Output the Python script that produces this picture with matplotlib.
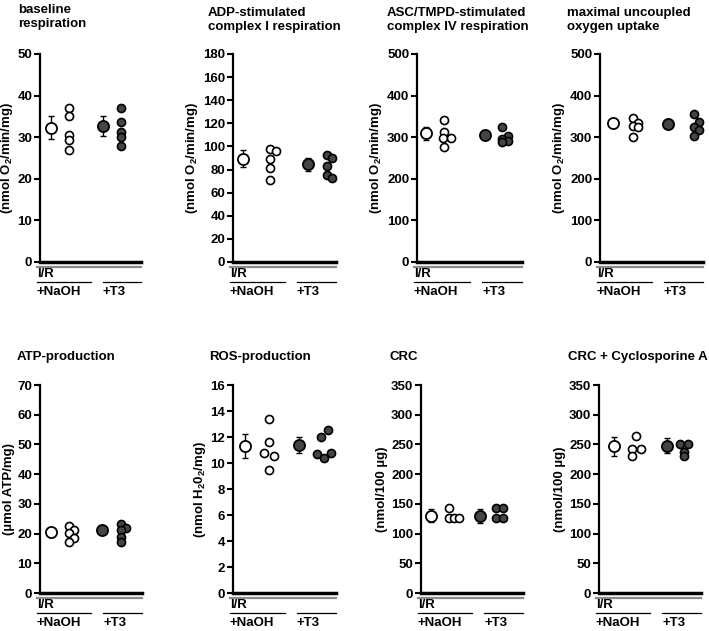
import numpy as np
import matplotlib
matplotlib.use("Agg")
import matplotlib.pyplot as plt

plt.rcParams['font.family'] = ['Liberation Sans', 'DejaVu Sans']
plt.rcParams['font.weight'] = 'bold'
plt.rcParams['font.size'] = 9.5
plt.rcParams['mathtext.fontset'] = 'custom'
plt.rcParams['mathtext.rm'] = 'Liberation Sans:bold'
plt.rcParams['mathtext.default'] = 'rm'

# panel texts
titles = ["baseline\nrespiration", "ADP-stimulated\ncomplex I respiration",
          "ASC/TMPD-stimulated\ncomplex IV respiration", "maximal uncoupled\noxygen uptake",
          "ATP-production", "ROS-production", "CRC", "CRC + Cyclosporine A"]
ylabels = [r"(nmol O$_2$/min/mg)"] * 4 + [r"(µmol ATP/mg)", r"(nmol H$_2$0$_2$/mg)",
                                            r"(nmol/100 µg)", r"(nmol/100 µg)"]
ymax = [50, 180, 500, 500, 70, 16, 350, 350]
ystep = [10, 20, 100, 100, 10, 2, 50, 50]

# group summaries (mean +/- SD)
naoh_mean = [32.3, 89.3, 309, 334, 20.5, 11.3, 130, 247]
naoh_sd = [2.8, 7.3, 15, 5, 1.5, 0.95, 11, 16]
t3_mean = [32.6, 84.7, 306, 332, 21.2, 11.4, 130, 248]
t3_sd = [2.4, 5.7, 4, 8, 1.3, 0.6, 12, 13]

# individual animals
naoh_pts = [[37.0, 35.0, 30.5, 29.3, 26.9],
            [98, 96, 89, 81, 71],
            [342, 312, 297, 297, 276],
            [347, 335, 327, 324, 300],
            [22.6, 21.3, 20.2, 18.4, 17.3],
            [13.35, 11.65, 10.77, 10.52, 9.48],
            [142.6, 125.7, 125.7, 125.7],
            [265, 243, 243, 230]]
t3_pts = [[37.0, 33.6, 31.3, 30.1, 27.9],
          [93, 90.4, 83, 75.2, 72.9],
          [325, 302, 296, 292, 288],
          [356, 337, 325, 317, 303],
          [23.2, 21.9, 21.3, 18.8, 17.1],
          [12.53, 11.98, 10.67, 10.36, 10.77],
          [142.6, 142.6, 125.7, 125.7],
          [251, 251, 238, 230]]

# layout (pixels): axes left, top, width, height
W, H = 709, 631
rects = [(40, 54, 101, 208), (233, 54, 103, 208), (417, 54, 105, 208), (600, 54, 103, 208),
         (40, 385, 102, 208), (233, 385, 103, 208), (421, 385, 102, 208), (599, 385, 102, 208)]
# x centers in axes fraction: naoh mean, naoh points, t3 mean, t3 points
xcent = [(0.11, 0.29, 0.62, 0.80), (0.094, 0.36, 0.725, 0.91), (0.09, 0.26, 0.65, 0.81),
         (0.13, 0.32, 0.66, 0.91), (0.105, 0.285, 0.61, 0.79), (0.117, 0.35, 0.645, 0.88),
         (0.098, 0.325, 0.58, 0.77), (0.145, 0.36, 0.665, 0.835)]
naoh_dx = [[0, 0, 0, 0, 0], [0, .06, 0, 0, 0], [0, 0, -.01, .06, 0], [0, .05, 0, .05, 0],
           [0, .05, 0, .05, 0], [0, 0, -.05, .05, 0], [-.05, -.05, 0, .05], [0, -.04, .05, -.04]]
t3_dx = [[0, 0, 0, 0, 0], [0, .05, 0, 0, .05], [0, .06, 0, .06, 0], [0, .05, 0, .05, 0],
         [0, .05, 0, 0, 0], [.04, -.03, -.06, 0, .07], [-.03, .03, -.03, .03], [-.04, .04, 0, 0]]
title_pos = [(18, 17), (208, 20), (387, 20), (567, 20), (17, 357), (209, 357), (389, 357), (568, 357)]

dark = '#454545'
fs = 9.5

fig = plt.figure(figsize=(W / 100, H / 100), dpi=100)

for i in range(8):
    l, t, w, h = rects[i]
    ax = fig.add_axes([l / W, 1 - (t + h) / H, w / W, h / H])
    cx = xcent[i]

    ax.errorbar(cx[0], naoh_mean[i], yerr=naoh_sd[i], fmt='none', ecolor='black',
                elinewidth=1, capsize=2.5, capthick=1, zorder=2)
    ax.plot(cx[0], naoh_mean[i], 'o', ms=8, mfc='white', mec='black', mew=1.3, zorder=3)
    ax.plot(cx[1] + np.array(naoh_dx[i]), naoh_pts[i], 'o', ms=5.8, mfc='white',
            mec='black', mew=1.2, zorder=3, clip_on=False)
    ax.errorbar(cx[2], t3_mean[i], yerr=t3_sd[i], fmt='none', ecolor='black',
                elinewidth=1, capsize=2.5, capthick=1, zorder=2)
    ax.plot(cx[2], t3_mean[i], 'o', ms=8, mfc=dark, mec='black', mew=1.3, zorder=3)
    ax.plot(cx[3] + np.array(t3_dx[i]), t3_pts[i], 'o', ms=5.8, mfc=dark,
            mec='black', mew=1.2, zorder=3, clip_on=False)

    ax.set_xlim(0, 1)
    ax.set_ylim(0, ymax[i])
    ax.set_yticks(np.arange(0, ymax[i] + ystep[i] / 2, ystep[i]))
    ax.set_xticks([])
    for s in ['top', 'right']:
        ax.spines[s].set_visible(False)
    ax.spines['left'].set_linewidth(1.6)
    ax.spines['bottom'].set_linewidth(2.5)
    ax.tick_params(axis='y', direction='out', length=4, width=1.5, labelsize=fs, pad=1.5)
    for lab in ax.get_yticklabels():
        lab.set_fontweight('bold')
    ax.set_ylabel(ylabels[i], fontsize=fs, fontweight='bold', labelpad=2)

    # treatment labels under the axis
    px = 1.0 / h
    ax.plot([-0.03, 1.0], [-5 * px, -5 * px], color='#8a8a8a', lw=1.6, clip_on=False,
            transform=ax.transAxes)
    ax.text(-0.03, -12 * px, "I/R", transform=ax.transAxes, ha='left', va='center',
            fontsize=fs, fontweight='bold')
    ax.plot([-0.03, 0.5], [-20 * px, -20 * px], color='black', lw=0.9, clip_on=False,
            transform=ax.transAxes)
    ax.plot([0.62, 1.0], [-20 * px, -20 * px], color='black', lw=0.9, clip_on=False,
            transform=ax.transAxes)
    ax.text(-0.03, -30 * px, "+NaOH", transform=ax.transAxes, ha='left', va='center',
            fontsize=fs, fontweight='bold')
    ax.text(0.62, -30 * px, "+T3", transform=ax.transAxes, ha='left', va='center',
            fontsize=fs, fontweight='bold')

    tx, ty = title_pos[i]
    fig.text(tx / W, 1 - ty / H, titles[i], ha='left', va='center', fontsize=fs,
             fontweight='bold', linespacing=1.3)

fig.savefig("out.png", dpi=100)
